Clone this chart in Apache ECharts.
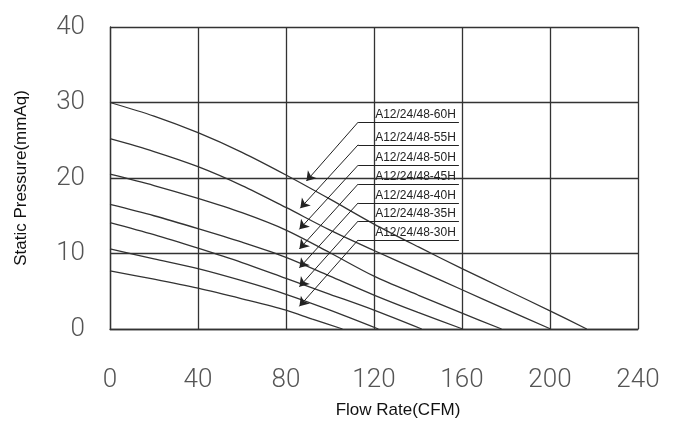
<!DOCTYPE html>
<html><head><meta charset="utf-8">
<script src="https://cdn.jsdelivr.net/npm/echarts@6/dist/echarts.min.js"></script>
<style>html,body{margin:0;padding:0;background:#fff}#c{width:681px;height:424px}</style>
</head><body><div id="c"></div>
<script>
// Model names (top curve first)
const models = ['A12/24/48-60H','A12/24/48-55H','A12/24/48-50H','A12/24/48-45H','A12/24/48-40H','A12/24/48-35H','A12/24/48-30H'];
// Flow (CFM) / static pressure (mmAq) points
const c60H = [[0,30],[20,28.2],[40,26.0],[60,23.4],[80,20.4],[100,17.2],[120,13.9],[140,10.9],[160,8.0],[180,5.2],[200,2.4],[216.7,0]];
const c55H = [[0,25.2],[20,23.5],[40,21.5],[60,19.0],[80,16.1],[100,13.1],[120,10.4],[140,7.8],[160,5.2],[180,2.6],[200.3,0]];
const c50H = [[0,20.5],[20,19.0],[40,17.3],[60,15.4],[80,13.1],[100,10.1],[120,7.0],[140,4.5],[160,2.1],[178,0]];
const c45H = [[0,16.5],[20,15.0],[40,13.3],[60,11.5],[80,9.5],[100,7.0],[120,4.5],[140,2.2],[160.3,0]];
const c40H = [[0,14.1],[20,12.5],[40,10.7],[60,8.8],[80,6.7],[100,4.6],[120,2.5],[141.7,0]];
const c35H = [[0,10.6],[20,9.3],[40,8.0],[60,6.4],[80,4.6],[100,2.5],[122,0]];
const c30H = [[0,7.7],[20,6.6],[40,5.4],[60,4.0],[80,2.5],[92,1.3],[105.7,0]];
const curves = [c60H,c55H,c50H,c45H,c40H,c35H,c30H];
// Annotation anchors in data units: arrow tip, label underline height
const tipX = [89.3,86.5,86.1,86.1,86.1,86.1,86.1];
const tipY = [19.6,16.0,13.2,10.6,8.1,5.6,3.0];
const underY = [27.4,24.4,21.7,19.2,16.7,14.3,11.8];
const underX0 = 112.8, underX1 = 158.6;
// Axis ticks
const xTicks = {min:0,max:240,interval:40};
const yTicks = {min:0,max:40,interval:10};

const tickFont = {fontFamily:'Roboto, Liberation Sans Narrow, sans-serif', fontSize:26, color:'#555', fontWeight:300};
const lineCol = '#333';

const series = curves.map((d,i)=>({
  type:'line', data:d, smooth:0.3, symbol:'none',
  lineStyle:{color:lineCol,width:1.3}, silent:true,
  markLine:{
    silent:true, animation:false, symbol:['arrow','none'], symbolSize:9,
    lineStyle:{color:'#222',width:1,type:'solid'},
    label:{show:false},
    data:[
      [{coord:[tipX[i],tipY[i]]},{coord:[underX0,underY[i]]}],
      [{coord:[underX0,underY[i]],symbol:'none'},{coord:[underX1,underY[i]],symbol:'none',
        label:{show:true,position:'insideStartTop',formatter:models[i],distance:[17,1],
          fontFamily:'Liberation Sans, Arial, sans-serif',fontSize:12,color:'#222'}}]
    ]
  }
}));

const chart = echarts.init(document.getElementById('c'),null,{renderer:'canvas'});
chart.setOption({
  animation:false,
  backgroundColor:'#fff',
  grid:{left:110,right:43,top:27,bottom:95,containLabel:false,outerBoundsMode:'none'},
  xAxis:{type:'value',min:xTicks.min,max:xTicks.max,interval:xTicks.interval,
    name:'Flow Rate(CFM)',nameLocation:'middle',nameGap:73,
    nameTextStyle:{fontFamily:'Liberation Sans, Arial, sans-serif',fontSize:17,color:'#111',padding:[0,0,0,48]},
    axisLine:{show:true,lineStyle:{color:lineCol,width:1.3}},axisTick:{show:false},
    splitLine:{show:true,lineStyle:{color:lineCol,width:1.3}},
    axisLabel:Object.assign({margin:38},tickFont)},
  yAxis:{type:'value',min:yTicks.min,max:yTicks.max,interval:yTicks.interval,
    name:'Static Pressure(mmAq)',nameLocation:'middle',nameGap:80,nameRotate:90,
    nameTextStyle:{fontFamily:'Liberation Sans, Arial, sans-serif',fontSize:17,color:'#111'},
    axisLine:{show:true,lineStyle:{color:lineCol,width:1.3}},axisTick:{show:false},
    splitLine:{show:true,lineStyle:{color:lineCol,width:1.3}},
    axisLabel:Object.assign({margin:25,padding:[0,0,8,0]},tickFont)},
  series:series
});
</script></body></html>
